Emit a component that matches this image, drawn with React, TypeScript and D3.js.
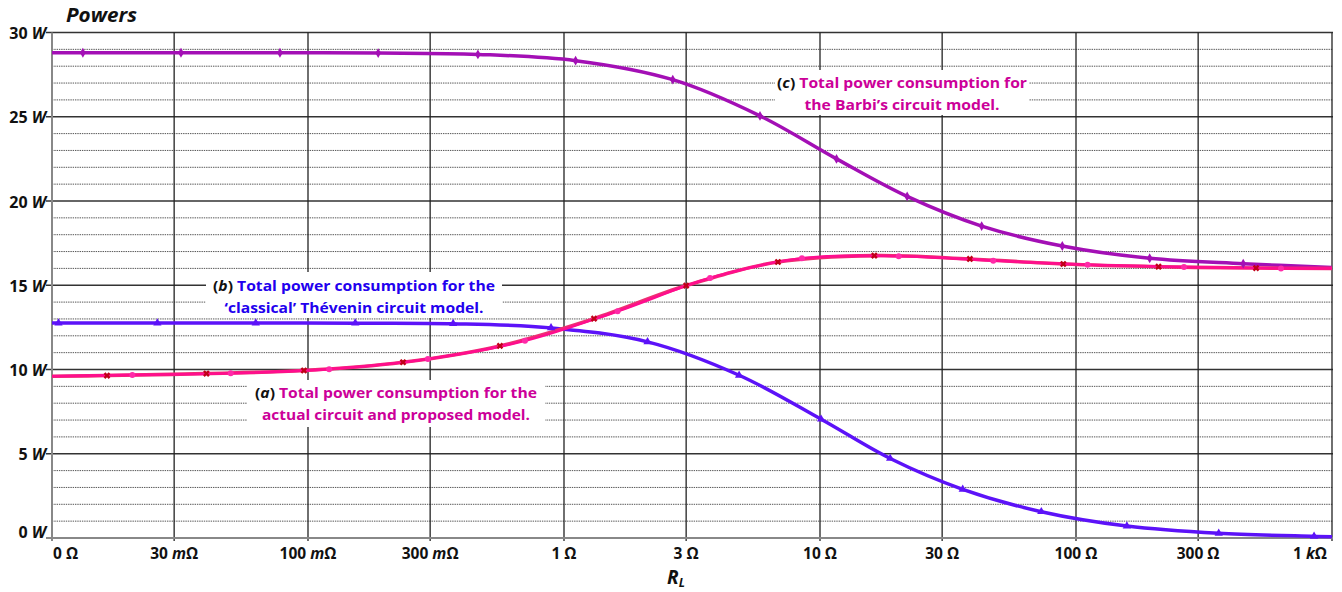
import React from "react";
import * as d3 from "d3";

// x ticks (load resistance, ohms) and their labels
const xTickValues = [0.01, 0.03, 0.1, 0.3, 1, 3, 10, 30, 100, 300, 1000];
const xTickLabels = ["0 Ω", "30 mΩ", "100 mΩ", "300 mΩ", "1 Ω", "3 Ω", "10 Ω", "30 Ω", "100 Ω", "300 Ω", "1 kΩ"];
const yTickValues = [0, 5, 10, 15, 20, 25, 30];
const yTickLabels = ["0 W", "5 W", "10 W", "15 W", "20 W", "25 W", "30 W"];

// (c) Barbi's circuit model
const barbiR = [0.01, 0.0132, 0.0319, 0.0777, 0.188, 0.461, 1.11, 2.66, 5.83, 11.6, 21.9, 42.8, 88.4, 194, 450, 1000];
const barbiP = [28.8, 28.8, 28.8, 28.8, 28.78, 28.7, 28.33, 27.2, 25.05, 22.5, 20.27, 18.51, 17.33, 16.6, 16.28, 16.05];

// (b) classical Thevenin model
const theveninR = [0.01, 0.0106, 0.0258, 0.0625, 0.153, 0.369, 0.89, 2.12, 4.83, 10.1, 18.8, 36.1, 73.2, 158, 361, 851, 1000];
const theveninP = [12.76, 12.76, 12.76, 12.76, 12.75, 12.72, 12.47, 11.64, 9.66, 7.05, 4.72, 2.89, 1.56, 0.71, 0.28, 0.1, 0.07];

// (a) actual circuit
const actualR = [0.01, 0.0164, 0.0401, 0.0964, 0.235, 0.562, 1.31, 3.0, 6.85, 16.3, 38.5, 89.2, 210, 505, 1000];
const actualP = [9.6, 9.64, 9.76, 9.94, 10.43, 11.4, 13.02, 14.98, 16.38, 16.76, 16.56, 16.26, 16.1, 16.02, 16.0];

// (a) proposed model
const modelR = [0.01, 0.0206, 0.0499, 0.121, 0.294, 0.704, 1.62, 3.72, 8.5, 20.3, 47.5, 111, 264, 632, 1000];
const modelP = [9.6, 9.68, 9.78, 10.02, 10.62, 11.7, 13.46, 15.43, 16.6, 16.72, 16.46, 16.22, 16.08, 16.0, 16.0];

const W = 1342;
const H = 592;
const FONT = "'Open Sans', 'DejaVu Sans', sans-serif";
const MAGENTA = "#cc0099";
const BLUE_TXT = "#2200ee";

const x = d3.scaleLog().domain([0.01, 1000]).range([52, 1332]);
const y = d3.scaleLinear().domain([0, 30]).range([538, 32.5]);

const toPts = (rs: number[], ps: number[]) => rs.map((r, i) => [x(r), y(ps[i])] as [number, number]);
const lineGen = d3.line().curve(d3.curveCatmullRom.alpha(0.5));

const series = [
  { name: "barbi", r: barbiR, p: barbiP, color: "#a30fb5", width: 3.5, marker: "diamond", mcolor: "#a30fb5" },
  { name: "thevenin", r: theveninR, p: theveninP, color: "#5c12f8", width: 3.5, marker: "triangle", mcolor: "#5c12f8" },
  { name: "actual", r: actualR, p: actualP, color: "#ee2f72", width: 3.6, marker: "x", mcolor: "#c00018" },
  { name: "model", r: modelR, p: modelP, color: "#ff0d8e", width: 2.6, marker: "dot", mcolor: "#ff2aa8" },
];

const symbolPath = (kind: string) => {
  if (kind === "diamond") return d3.symbol(d3.symbolDiamond, 28)()!;
  if (kind === "triangle") return d3.symbol(d3.symbolTriangle, 30)()!;
  if (kind === "x") return d3.symbol(d3.symbolCross, 28)()!;
  return d3.symbol(d3.symbolCircle, 28)()!;
};

// annotation boxes: [x0, x1, y0, y1], centre x, baselines
const notes = [
  {
    box: [206, 502, 272, 318], cx: 354, base: [291, 313], len: [282, 259], letter: "b", color: BLUE_TXT,
    lines: [" Total power consumption for the", "‘classical’ Thévenin circuit model."],
  },
  {
    box: [775, 1029, 70, 115], cx: 902, base: [88, 110], len: [250, 195], letter: "c", color: MAGENTA,
    lines: [" Total power consumption for", "the Barbi’s circuit model."],
  },
  {
    box: [247, 545, 380, 427], cx: 396, base: [398, 420], len: [282, 268], letter: "a", color: MAGENTA,
    lines: [" Total power consumption for the", "actual circuit and proposed model."],
  },
];

const XLabel = ({ label, i }: { label: string; i: number }) => {
  const m = label.match(/^(\S+ )([mk]?)(Ω)$/)!;
  const anchor = i === 0 ? "start" : i === xTickLabels.length - 1 ? "end" : "middle";
  const px = i === 0 ? 53 : i === xTickLabels.length - 1 ? 1327 : x(xTickValues[i]);
  return (
    <text x={px} y={559} textAnchor={anchor} fontSize={15.5} fontWeight="bold" fill="#111">
      {m[1]}
      {m[2] && <tspan fontStyle="italic">{m[2]}</tspan>}
      {m[3]}
    </text>
  );
};

export default function App() {
  const minor = d3.range(0, 31).filter((v) => v % 5 !== 0);
  return (
    <svg
      width={W}
      height={H}
      style={{ position: "absolute", left: 0, top: 0, background: "#fff" }}
      fontFamily={FONT}
    >
      <rect width={W} height={H} fill="#fff" />
      {/* minor dotted gridlines */}
      {minor.map((v) => (
        <line key={"m" + v} x1={52} x2={1333} y1={y(v)} y2={y(v)} stroke="#555" strokeWidth={1} strokeDasharray="1.4 0.9" />
      ))}
      {/* major gridlines */}
      {yTickValues.slice(1).map((v) => (
        <line key={"M" + v} x1={46} x2={1333} y1={y(v)} y2={y(v)} stroke="#333" strokeWidth={1.4} />
      ))}
      {/* vertical gridlines */}
      {xTickValues.slice(1).map((v) => (
        <line key={"v" + v} x1={x(v)} x2={x(v)} y1={y(30)} y2={541} stroke="#222" strokeWidth={1.3} />
      ))}
      {/* axes */}
      <line x1={52} x2={52} y1={y(30)} y2={541} stroke="#888" strokeWidth={2} />
      <line x1={46} x2={1333} y1={y(0)} y2={y(0)} stroke="#888" strokeWidth={2} />

      {/* annotation backgrounds */}
      {notes.map((n) => (
        <rect key={"bg" + n.letter} x={n.box[0]} y={n.box[2]} width={n.box[1] - n.box[0]} height={n.box[3] - n.box[2]} fill="#fff" />
      ))}

      {/* series lines */}
      {series.map((s) => (
        <path key={s.name} d={lineGen(toPts(s.r, s.p))!} fill="none" stroke={s.color} strokeWidth={s.width} strokeLinejoin="round" />
      ))}
      {/* markers (end points carry none) */}
      {series.map((s) =>
        toPts(s.r, s.p)
          .slice(1, -1)
          .map(([px, py], i) => (
            <path
              key={s.name + "mk" + i}
              d={symbolPath(s.marker)}
              transform={`translate(${px},${py})${s.marker === "x" ? " rotate(45)" : ""}`}
              fill={s.mcolor}
            />
          ))
      )}

      {/* y axis labels */}
      {yTickValues.map((v, i) => {
        const [num] = yTickLabels[i].split(" ");
        return (
          <text key={"yl" + v} x={46} y={v === 0 ? y(0) : y(v) + 6.5} textAnchor="end" fontSize={16} fontWeight="bold" fill="#111">
            {num + " "}
            <tspan fontStyle="italic">W</tspan>
          </text>
        );
      })}
      {/* x axis labels */}
      {xTickLabels.map((l, i) => (
        <XLabel key={"xl" + i} label={l} i={i} />
      ))}

      {/* annotations */}
      {notes.map((n) => (
        <g key={"n" + n.letter} fontSize={15} fontWeight="bold">
          <text x={n.cx} y={n.base[0]} textAnchor="middle" textLength={n.len[0]} lengthAdjust="spacingAndGlyphs" fill="#111">
            (<tspan fontStyle="italic">{n.letter}</tspan>)<tspan fill={n.color}>{n.lines[0]}</tspan>
          </text>
          <text x={n.cx} y={n.base[1]} textAnchor="middle" textLength={n.len[1]} lengthAdjust="spacingAndGlyphs" fill={n.color}>
            {n.lines[1]}
          </text>
        </g>
      ))}

      {/* titles */}
      <text x={66} y={22} fontSize={19} fontWeight="bold" fontStyle="italic" fill="#111" textLength={71} lengthAdjust="spacingAndGlyphs">
        Powers
      </text>
      <text x={676} y={584} textAnchor="middle" fontSize={19} fontWeight="bold" fontStyle="italic" fill="#111">
        R<tspan fontSize={12} dy={3}>L</tspan>
      </text>
    </svg>
  );
}
